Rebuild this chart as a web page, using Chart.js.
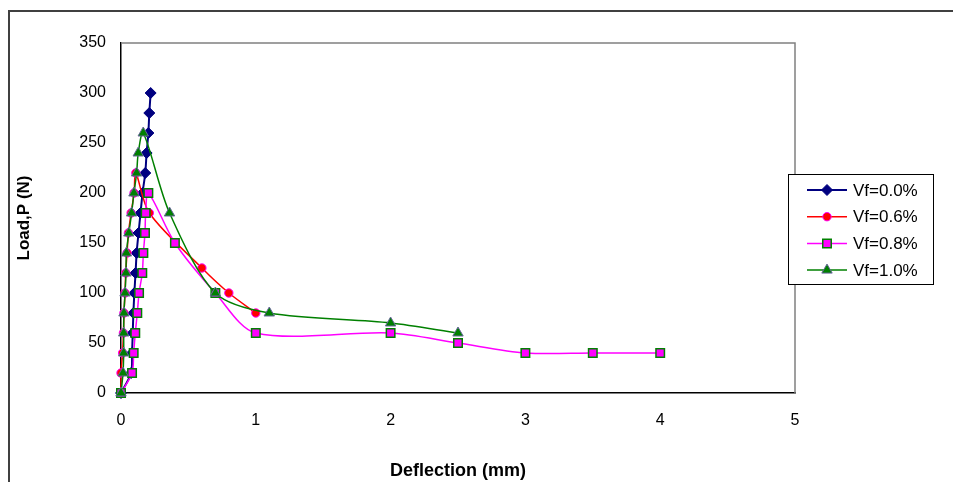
<!DOCTYPE html>
<html>
<head>
<meta charset="utf-8">
<script src="https://cdn.jsdelivr.net/npm/chart.js@4/dist/chart.umd.min.js"></script>
<style>
  html, body { margin: 0; padding: 0; background: #fff; }
  #wrap { position: relative; width: 953px; height: 482px; }
</style>
</head>
<body>
<div id="wrap"><canvas id="chart"></canvas></div>
<script>
// values: deflection (mm) and load (N)
const seriesNames = ["Vf=0.0%", "Vf=0.6%", "Vf=0.8%", "Vf=1.0%"];

const defl00 = [0, 0.075, 0.082, 0.087, 0.092, 0.099, 0.108, 0.116, 0.13, 0.145, 0.16, 0.18, 0.19, 0.203, 0.21, 0.22];
const load00 = [0, 20, 40, 60, 80, 100, 120, 140, 160, 180, 200, 220, 240, 260, 280, 300];

const defl06 = [0, 0, 0.012, 0.018, 0.022, 0.03, 0.035, 0.045, 0.055, 0.075, 0.097, 0.11, 0.21, 0.6, 0.8, 1.0];
const load06 = [0, 20, 40, 60, 80, 100, 120, 140, 160, 180, 200, 220, 180, 125, 100, 80];

const defl08 = [0, 0.082, 0.094, 0.106, 0.121, 0.134, 0.158, 0.166, 0.178, 0.183, 0.203, 0.4, 0.7, 1.0, 2.0, 2.5, 3.0, 3.5, 4.0];
const load08 = [0, 20, 40, 60, 80, 100, 120, 140, 160, 180, 200, 150, 100, 60, 60, 50, 40, 40, 40];

const defl10 = [0, 0.015, 0.02, 0.02, 0.022, 0.03, 0.037, 0.04, 0.058, 0.079, 0.096, 0.116, 0.128, 0.165, 0.36, 0.7, 1.1, 2.0, 2.5];
const load10 = [0, 20, 40, 60, 80, 100, 120, 140, 160, 180, 200, 220, 240, 260, 180, 100, 80, 70, 60];

const xTicks = [0, 1, 2, 3, 4, 5];
const yTicks = [0, 50, 100, 150, 200, 250, 300, 350];

const pairs = (xs, ys) => xs.map((x, i) => ({ x: x, y: ys[i] }));

const FONT = "'Liberation Sans', Arial, sans-serif";

const styles = [
  { line: "#000080", fill: "#000080", edge: "#000080", shape: "rectRot", r: 5.5, lw: 2, bw: 1 },
  { line: "#FF0000", fill: "#FF0000", edge: "#FF00FF", shape: "circle", r: 4.2, lw: 1.5, bw: 1 },
  { line: "#FF00FF", fill: "#FF00FF", edge: "#008000", shape: "rect", r: 6, lw: 1.5, bw: 1.5 },
  { line: "#008000", fill: "#008000", edge: "#666699", shape: "triangle", r: 6, lw: 1.5, bw: 1 }
];

const allData = [pairs(defl00, load00), pairs(defl06, load06), pairs(defl08, load08), pairs(defl10, load10)];

const datasets = allData.map((d, i) => ({
  label: seriesNames[i],
  data: d,
  showLine: true,
  tension: 0.3,
  borderColor: styles[i].line,
  borderWidth: styles[i].lw,
  pointStyle: styles[i].shape,
  pointRadius: styles[i].r,
  pointBackgroundColor: styles[i].fill,
  pointBorderColor: styles[i].edge,
  pointBorderWidth: styles[i].bw,
  order: 3 - i,
  clip: false
}));

// outer frame, top/right plot border and the boxed legend
const decor = {
  id: "decor",
  beforeDraw(chart) {
    const ctx = chart.ctx;
    ctx.save();
    ctx.fillStyle = "#fff";
    ctx.fillRect(0, 0, chart.width, chart.height);
    ctx.restore();
  },
  afterDraw(chart) {
    const ctx = chart.ctx;
    const a = chart.chartArea;
    ctx.save();
    // outer frame
    ctx.strokeStyle = "#404040";
    ctx.lineWidth = 2;
    ctx.beginPath();
    ctx.moveTo(9, chart.height);
    ctx.lineTo(9, 11);
    ctx.lineTo(chart.width, 11);
    ctx.stroke();
    // plot box top and right
    ctx.strokeStyle = "#808080";
    ctx.lineWidth = 1.5;
    ctx.beginPath();
    ctx.moveTo(a.left, a.top);
    ctx.lineTo(a.right, a.top);
    ctx.lineTo(a.right, a.bottom);
    ctx.stroke();
    // legend
    const lx = 788, ly = 174, lw = 145, lh = 110;
    ctx.fillStyle = "#fff";
    ctx.fillRect(lx, ly, lw, lh);
    ctx.strokeStyle = "#000";
    ctx.lineWidth = 1;
    ctx.strokeRect(lx + 0.5, ly + 0.5, lw, lh);
    ctx.font = "17px " + FONT;
    ctx.textBaseline = "middle";
    chart.data.datasets.forEach((ds, i) => {
      const y = 190 + i * 26.7;
      ctx.strokeStyle = ds.borderColor;
      ctx.lineWidth = ds.borderWidth;
      ctx.beginPath();
      ctx.moveTo(807, y);
      ctx.lineTo(847, y);
      ctx.stroke();
      ctx.fillStyle = ds.pointBackgroundColor;
      ctx.strokeStyle = ds.pointBorderColor;
      ctx.lineWidth = ds.pointBorderWidth;
      Chart.helpers.drawPoint(ctx, { pointStyle: ds.pointStyle, radius: ds.pointRadius, borderWidth: ds.pointBorderWidth, rotation: 0 }, 827, y);
      ctx.fillStyle = "#000";
      ctx.fillText(ds.label, 853, y + 1);
    });
    ctx.restore();
  }
};

new Chart(document.getElementById("chart"), {
  type: "scatter",
  data: { datasets },
  options: {
    responsive: true,
    maintainAspectRatio: false,
    animation: false,
    layout: { padding: { left: 0, top: 43, right: 158, bottom: 0 } },
    plugins: { legend: { display: false }, tooltip: { enabled: false } },
    scales: {
      x: {
        type: "linear",
        min: 0,
        max: 5,
        afterBuildTicks: s => { s.ticks = xTicks.map(v => ({ value: v })); },
        afterFit: s => { s.height = 89; },
        grid: { display: false, drawTicks: false },
        border: { display: true, color: "#000", width: 1.5 },
        ticks: { padding: 18, color: "#000", font: { family: FONT, size: 16 } },
        title: {
          display: true,
          text: "Deflection (mm)",
          color: "#000",
          padding: { top: 0, bottom: 0 },
          font: { family: FONT, size: 18, weight: "bold" }
        }
      },
      y: {
        type: "linear",
        min: 0,
        max: 350,
        afterBuildTicks: s => { s.ticks = yTicks.map(v => ({ value: v })); },
        afterFit: s => { s.width = 121; },
        grid: { display: false, drawTicks: false },
        border: { display: true, color: "#000", width: 1.5 },
        ticks: { padding: 15, color: "#000", font: { family: FONT, size: 16 } },
        title: {
          display: true,
          text: "Load,P (N)",
          color: "#000",
          padding: { top: 14, bottom: 0 },
          font: { family: FONT, size: 17, weight: "bold" }
        }
      }
    }
  },
  plugins: [decor]
});
</script>
</body>
</html>
